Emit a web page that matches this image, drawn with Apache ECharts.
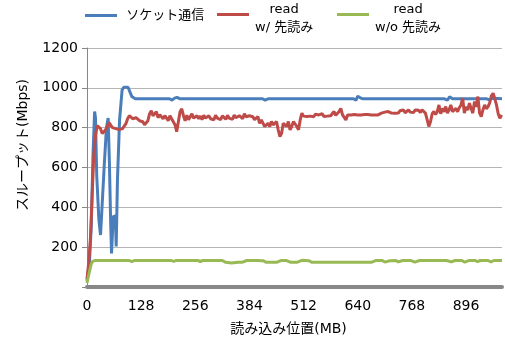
<!DOCTYPE html>
<html>
<head>
<meta charset="utf-8">
<script src="https://cdn.jsdelivr.net/npm/echarts@6/dist/echarts.min.js"></script>
<style>
  html, body { margin: 0; padding: 0; background: #fff; }
  #chart { width: 505px; height: 342px; }
</style>
</head>
<body>
<div id="chart"></div>
<script>
// Read position axis (MB)
const X_MAX = 981;
const X_TICK_STEP = 128;
const Y_TICKS = [200, 400, 600, 800, 1000, 1200];

// Series names
const NAME_SOCKET = 'ソケット通信';
const NAME_READ_AHEAD = 'read w/ 先読み';
const NAME_READ_NOAHEAD = 'read w/o 先読み';

// Socket throughput: [position MB, Mbps]
const socketData = [
  [0, 30], [6, 130], [10, 300], [14, 650], [18, 881], [20, 850], [23, 560], [28, 340],
  [32, 261], [35, 380], [41, 620], [46, 800], [50, 848], [53, 620], [56, 320], [58, 169],
  [62, 353], [67, 357], [69, 203], [72, 538], [77, 839], [83, 990], [87, 1003], [97, 1003],
  [106, 956], [114, 945], [195, 945], [201, 938], [207, 948], [213, 952], [220, 945],
  [415, 945], [421, 938], [428, 945], [630, 945], [636, 938], [640, 958], [646, 950],
  [652, 945], [845, 945], [852, 938], [857, 955], [864, 945], [945, 945], [951, 940],
  [958, 948], [981, 945]
];

// read() with read-ahead: sampled every 4 MB
const READ_STEP = 4;
const readAheadValues = [
  40, 120, 240, 450, 660, 760, 810, 805, 795, 770,
  760, 790, 805, 825, 820, 800, 790, 795, 795, 790,
  785, 795, 800, 820, 845, 860, 865, 845, 835, 850,
  850, 835, 825, 830, 815, 822, 835, 870, 885, 860,
  855, 880, 850, 865, 870, 845, 860, 850, 835, 860,
  845, 848, 815, 780, 830, 880, 895, 860, 835, 862,
  840, 832, 870, 848, 838, 860, 845, 858, 840, 862,
  848, 838, 860, 845, 855, 840, 862, 848, 855, 840,
  860, 850, 842, 862, 848, 858, 842, 864, 850, 840,
  860, 852, 845, 870, 855, 845, 860, 870, 855, 840,
  850, 856, 822, 839, 847, 806, 797, 822, 806, 831,
  814, 806, 831, 789, 755, 772, 822, 831, 806, 831,
  789, 806, 831, 839, 806, 789, 839, 873, 858, 864,
  856, 866, 858, 862, 855, 868, 858, 864, 860, 870,
  856, 862, 858, 865, 860, 870, 881, 862, 868, 881,
  897, 864, 856, 839, 864, 860, 864, 862, 866, 864,
  864, 866, 864, 862, 866, 864, 866, 864, 864, 862,
  864, 866, 864, 868, 873, 870, 878, 872, 881, 876,
  873, 880, 872, 882, 873, 885, 878, 889, 875, 884,
  889, 878, 886, 876, 889, 880, 887, 876, 889, 880,
  873, 840, 806, 830, 870, 881, 866, 880, 914, 870,
  897, 880, 906, 873, 890, 914, 880, 873, 897, 880,
  900, 914, 948, 873, 906, 888, 923, 897, 873, 931,
  905, 956, 873, 856, 890, 914, 895, 906, 925, 960,
  973, 945, 914, 870, 847, 864
];

// read() without read-ahead: [position MB, Mbps]
const readNoAheadData = [
  [0, 20], [5, 70], [10, 115], [14, 130], [20, 133], [100, 133], [106, 127], [112, 133],
  [200, 133], [205, 128], [210, 133], [262, 133], [268, 128], [274, 133], [320, 133],
  [328, 124], [342, 120], [356, 124], [366, 124], [378, 133], [400, 133], [416, 132],
  [424, 124], [448, 124], [458, 133], [472, 133], [482, 124], [496, 124], [508, 134],
  [524, 132], [532, 124], [660, 124], [672, 124], [682, 133], [698, 133], [704, 125],
  [716, 132], [730, 133], [736, 126], [746, 133], [766, 133], [775, 125], [786, 133],
  [850, 133], [861, 126], [870, 133], [886, 133], [893, 125], [902, 133], [918, 133],
  [923, 127], [930, 133], [948, 133], [955, 126], [962, 133], [981, 133]
];

const FONT = "'DejaVu Sans', 'Noto Sans CJK JP', sans-serif";
const BLUE = '#4a7ebb';
const RED = '#be4b48';
const GREEN = '#98b954';
const AXIS_GRAY = '#878787';

const readAheadData = readAheadValues.map((v, i) => [i * READ_STEP, v]);

function legendBase(name, left, top, twoLine) {
  return {
    data: [name],
    left: left,
    top: top,
    padding: 0,
    itemWidth: 32,
    itemHeight: 3,
    icon: 'rect',
    selectedMode: false,
    textStyle: {
      fontFamily: FONT,
      fontSize: 13,
      color: '#000',
      padding: twoLine ? [8, 0, 0, 1] : [0, 0, 0, 0],
      rich: { c: { align: 'center', fontFamily: FONT, fontSize: 13, lineHeight: 18, color: '#000' } }
    },
    formatter: function (n) {
      if (!twoLine) return ' ' + n;
      const parts = n.split(' ');
      return '{c|' + parts[0] + '}\n{c|' + parts.slice(1).join(' ') + '}';
    }
  };
}

const chart = echarts.init(document.getElementById('chart'), null, { renderer: 'canvas' });

chart.setOption({
  animation: false,
  backgroundColor: '#fff',
  textStyle: { fontFamily: FONT },
  legend: [
    legendBase(NAME_SOCKET, 85, 9, false),
    legendBase(NAME_READ_AHEAD, 217, 3, true),
    legendBase(NAME_READ_NOAHEAD, 337, 3, true)
  ],
  grid: { left: 87, right: 2, top: 48, bottom: 55, containLabel: false },
  xAxis: {
    type: 'value',
    min: 0,
    max: X_MAX,
    interval: X_TICK_STEP,
    offset: 2,
    name: '読み込み位置(MB)',
    nameLocation: 'middle',
    nameGap: 33,
    nameTextStyle: { fontFamily: FONT, fontSize: 14, color: '#000', padding: [0, 12, 0, 0] },
    axisLine: { lineStyle: { color: AXIS_GRAY, width: 4 } },
    axisTick: { show: false },
    splitLine: { show: false },
    axisLabel: {
      margin: 10,
      fontFamily: FONT,
      fontSize: 14,
      color: '#000',
      formatter: v => (v % X_TICK_STEP === 0 ? String(v) : '')
    }
  },
  yAxis: {
    type: 'value',
    min: 0,
    max: 1200,
    interval: 200,
    name: 'スループット(Mbps)',
    nameLocation: 'middle',
    nameGap: 57,
    nameTextStyle: { fontFamily: FONT, fontSize: 14, color: '#000', padding: [0, 0, 0, 45] },
    axisLine: { show: true, lineStyle: { color: AXIS_GRAY, width: 1 } },
    axisTick: { show: true, length: 5, lineStyle: { color: AXIS_GRAY } },
    splitLine: { lineStyle: { color: '#b5b5b5', width: 1 } },
    axisLabel: {
      margin: 9,
      fontFamily: FONT,
      fontSize: 14,
      color: '#000',
      formatter: v => (Y_TICKS.indexOf(v) >= 0 ? String(v) : '')
    }
  },
  series: [
    {
      name: NAME_SOCKET, type: 'line', data: socketData, showSymbol: false, symbol: 'none',
      lineStyle: { color: BLUE, width: 3 }, itemStyle: { color: BLUE }, z: 3
    },
    {
      name: NAME_READ_AHEAD, type: 'line', data: readAheadData, showSymbol: false, symbol: 'none',
      lineStyle: { color: RED, width: 3 }, itemStyle: { color: RED }, z: 4
    },
    {
      name: NAME_READ_NOAHEAD, type: 'line', data: readNoAheadData, showSymbol: false, symbol: 'none',
      lineStyle: { color: GREEN, width: 3 }, itemStyle: { color: GREEN }, z: 5
    }
  ]
});
</script>
</body>
</html>
